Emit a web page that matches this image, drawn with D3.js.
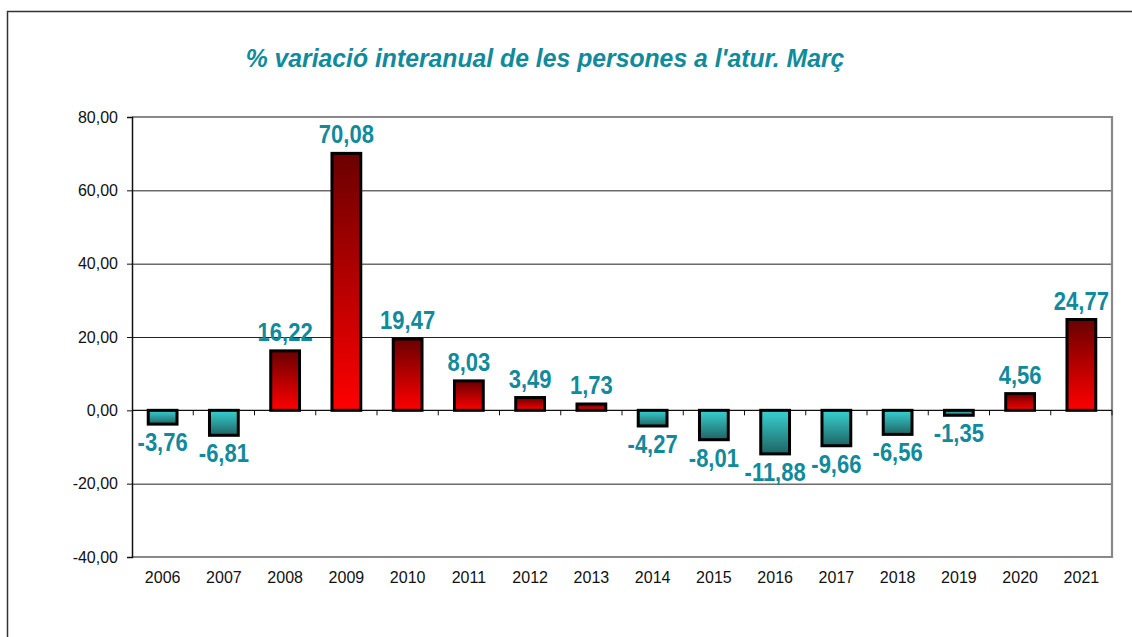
<!DOCTYPE html>
<html><head><meta charset="utf-8">
<script src="https://cdn.jsdelivr.net/npm/d3@7"></script>
<style>
html,body{margin:0;padding:0;background:#fff;}
svg{display:block;font-family:"Liberation Sans",Arial,sans-serif;}
</style></head>
<body>
<svg id="chart" width="1132" height="637"></svg>
<script>
const years = ["2006","2007","2008","2009","2010","2011","2012","2013","2014","2015","2016","2017","2018","2019","2020","2021"];
const values = [-3.76,-6.81,16.22,70.08,19.47,8.03,3.49,1.73,-4.27,-8.01,-11.88,-9.66,-6.56,-1.35,4.56,24.77];
const yTicks = [-40,-20,0,20,40,60,80];
const titleText = "% variació interanual de les persones a l'atur. Març";

const svg = d3.select("#chart");
const M = {left:132, top:117, right:1112, bottom:557};
const teal = "#118a9c";

const fmt = v => d3.format(".2f")(v).replace(".", ",").replace("\u2212","-");

const x = d3.scaleBand().domain(years).range([M.left, M.right]).paddingInner(0.53).paddingOuter(0.265);
const y = d3.scaleLinear().domain([-40,80]).range([M.bottom, M.top]);

// outer frame
svg.append("rect").attr("x",7.5).attr("y",11.5).attr("width",1200).attr("height",700)
  .attr("fill","none").attr("stroke","#333").attr("stroke-width",1.5);

// gradients
const defs = svg.append("defs");
const gPos = defs.append("linearGradient").attr("id","gPos").attr("x1",0).attr("y1",0).attr("x2",0).attr("y2",1);
gPos.append("stop").attr("offset","0%").attr("stop-color","#6a0000");
gPos.append("stop").attr("offset","100%").attr("stop-color","#ff0000");
const gNeg = defs.append("linearGradient").attr("id","gNeg").attr("x1",0).attr("y1",0).attr("x2",0).attr("y2",1);
gNeg.append("stop").attr("offset","0%").attr("stop-color","#38d2d2");
gNeg.append("stop").attr("offset","100%").attr("stop-color","#1f6464");

// title
svg.append("text").attr("transform","translate(545,67) scale(0.952,1)").attr("text-anchor","middle")
  .attr("font-size",26).attr("font-weight","bold").attr("font-style","italic")
  .attr("fill",teal).text(titleText);

// gridlines
svg.append("g").selectAll("line").data(yTicks.filter(t => t!==80 && t!==-40 && t!==0)).join("line")
  .attr("x1",M.left).attr("x2",M.right).attr("y1",d=>y(d)+0.5).attr("y2",d=>y(d)+0.5)
  .attr("stroke","#222").attr("stroke-width",1);

// plot border (top, right, bottom gray)
svg.append("path")
  .attr("d",`M${M.left},${M.top}H${M.right}V${M.bottom}H${M.left}`)
  .attr("fill","none").attr("stroke","#888").attr("stroke-width",2.2);

// y axis
const yAxis = d3.axisLeft(y).tickValues(yTicks).tickSize(5).tickPadding(9).tickFormat(fmt);
const gy = svg.append("g").attr("transform",`translate(${M.left},0)`).call(yAxis);
gy.select(".domain").attr("stroke","#111").attr("stroke-width",1.5);
gy.selectAll(".tick line").attr("stroke","#111");
gy.selectAll("text").attr("font-size",16).attr("fill","#111").attr("font-family","Liberation Sans, Arial, sans-serif");

// zero line with ticks at band boundaries
svg.append("line").attr("x1",M.left).attr("x2",M.right).attr("y1",y(0)).attr("y2",y(0))
  .attr("stroke","#111").attr("stroke-width",1.2);
const bounds = years.map((d,i)=> M.left + i*x.step()).concat([M.right]);
svg.append("g").selectAll("line").data(bounds.slice(1)).join("line")
  .attr("x1",d=>d).attr("x2",d=>d).attr("y1",y(0)).attr("y2",y(0)+5)
  .attr("stroke","#111").attr("stroke-width",1);

// x labels
const xAxis = d3.axisBottom(x).tickSize(0).tickPadding(15);
const gx = svg.append("g").attr("transform",`translate(0,${M.bottom})`).call(xAxis);
gx.select(".domain").remove();
gx.selectAll("text").attr("font-size",16).attr("fill","#111").attr("font-family","Liberation Sans, Arial, sans-serif");

// bars
const data = years.map((yr,i)=>({yr, v:values[i]}));
svg.append("g").selectAll("rect").data(data).join("rect")
  .attr("x",d=>x(d.yr)).attr("width",x.bandwidth())
  .attr("y",d=>y(Math.max(0,d.v))).attr("height",d=>Math.abs(y(d.v)-y(0)))
  .attr("fill",d=>d.v>=0?"url(#gPos)":"url(#gNeg)")
  .attr("stroke","#000").attr("stroke-width",3);

// value labels
svg.append("g").selectAll("text").data(data).join("text")
  .attr("transform",d=>`translate(${x(d.yr)+x.bandwidth()/2},${d.v>=0 ? y(d.v)-10 : y(d.v)+27}) scale(0.88,1)`)
  .attr("text-anchor","middle").attr("font-size",25).attr("font-weight","bold")
  .attr("fill",teal).text(d=>fmt(d.v));
</script>
</body></html>
